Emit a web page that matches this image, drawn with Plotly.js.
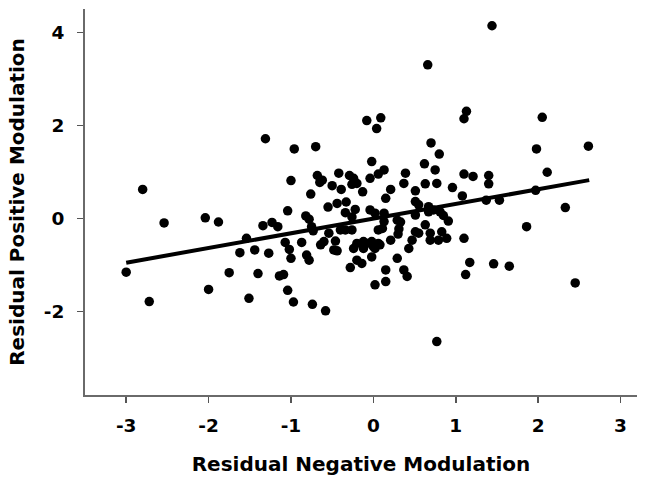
<!DOCTYPE html>
<html>
<head>
<meta charset="utf-8">
<script src="https://cdn.plot.ly/plotly-3.0.1.min.js"></script>
<style>html,body{margin:0;padding:0;background:#fff;}#chart{width:647px;height:486px;}</style>
</head>
<body>
<div id="chart"></div>
<script>
var xVals = [-3.00,-2.80,-2.72,-2.54,-2.04,-1.88,-2.00,-1.75,-1.54,-1.62,
  -1.44,-1.27,-1.34,-1.23,-1.16,-1.40,-1.51,-1.14,-1.09,-1.04,
  -0.97,-0.74,-0.58,-1.31,-0.96,-0.70,-1.00,-1.04,-1.07,-1.02,
  -1.00,-0.87,-0.81,-0.78,-0.82,-0.78,-0.76,-0.73,-0.75,-0.55,
  -0.44,-0.33,-0.68,-0.62,-0.65,-0.50,-0.42,-0.39,-0.29,-0.24,
  -0.26,-0.20,-0.13,-0.04,-0.02,0.13,0.06,0.21,0.15,0.39,
  0.37,-0.34,-0.22,-0.04,0.02,0.13,-0.26,0.13,0.29,-0.54,
  -0.40,-0.34,-0.26,0.06,0.11,0.31,0.33,-0.60,-0.46,-0.48,
  -0.24,-0.20,-0.12,-0.08,-0.02,0.06,0.08,-0.12,0.00,0.02,
  0.21,0.43,-0.02,-0.20,-0.14,-0.28,0.29,0.15,0.37,0.02,
  0.15,-0.44,-0.64,0.51,0.63,0.77,0.75,0.96,1.10,1.08,
  0.51,0.55,0.67,0.67,0.73,0.81,0.85,0.91,0.51,0.63,
  0.51,0.55,0.69,0.69,0.83,0.79,0.89,0.47,0.30,1.10,
  1.17,1.12,1.46,1.65,2.45,2.33,1.86,1.97,1.37,1.53,
  1.40,1.40,1.21,-0.08,0.09,0.04,0.70,0.80,0.62,0.66,
  1.44,1.13,1.10,2.05,1.98,2.61,2.11,0.77,0.41];
var yVals = [-1.16,0.62,-1.79,-0.10,0.01,-0.08,-1.53,-1.17,-0.43,-0.74,
  -0.68,-0.75,-0.16,-0.09,-0.18,-1.19,-1.72,-1.24,-1.21,-1.55,
  -1.80,-1.85,-1.99,1.71,1.49,1.54,0.81,0.16,-0.52,-0.67,
  -0.86,-0.52,-0.79,-0.90,0.05,-0.02,0.52,-0.27,-0.18,0.24,
  0.32,0.35,0.92,0.82,0.77,0.70,0.97,0.62,0.92,0.86,
  0.73,0.75,0.57,0.86,1.22,1.04,0.95,0.62,0.43,0.97,
  0.75,0.12,0.19,0.18,0.11,0.11,0.03,-0.07,-0.04,-0.32,
  -0.25,-0.25,-0.25,-0.25,-0.22,-0.23,-0.08,-0.50,-0.49,-0.68,
  -0.65,-0.54,-0.50,-0.54,-0.50,-0.54,-0.57,-0.65,-0.61,-0.65,
  -0.47,-0.65,-0.83,-0.90,-0.97,-1.06,-0.86,-1.11,-1.11,-1.43,
  -1.36,-0.70,-0.57,0.59,0.74,0.75,1.04,0.66,0.95,0.48,
  0.36,0.29,0.25,0.14,0.18,0.14,0.06,-0.06,0.07,-0.14,
  -0.29,-0.32,-0.32,-0.47,-0.29,-0.47,-0.43,-0.47,-0.34,-0.43,
  -0.95,-1.21,-0.98,-1.03,-1.39,0.23,-0.18,0.60,0.39,0.39,
  0.92,0.74,0.90,2.10,2.16,1.93,1.62,1.38,1.17,3.30,
  4.14,2.30,2.14,2.17,1.49,1.55,0.99,-2.65,-1.25];
var fitX = [-3.00, 2.62];
var fitY = [-0.955, 0.82];
var xTickVals = [-3, -2, -1, 0, 1, 2, 3];
var xTickText = ['-3', '-2', '-1', '0', '1', '2', '3'];
var yTickVals = [-2, 0, 2, 4];
var yTickText = ['-2', '0', '2', '4'];
var xTitle = 'Residual Negative Modulation';
var yTitle = 'Residual Positive Modulation';

var traces = [
  {type: 'scatter', mode: 'markers', x: xVals, y: yVals,
   marker: {color: '#000000', size: 9.5}, hoverinfo: 'none', cliponaxis: false},
  {type: 'scatter', mode: 'lines', x: fitX, y: fitY,
   line: {color: '#000000', width: 4}, hoverinfo: 'none'}
];

var fontFam = 'DejaVu Sans, Liberation Sans, Arial, sans-serif';
var layout = {
  width: 647, height: 486,
  margin: {l: 85, r: 10, t: 9, b: 91, pad: 0},
  paper_bgcolor: '#ffffff', plot_bgcolor: '#ffffff',
  showlegend: false,
  font: {family: fontFam, color: '#000000'},
  xaxis: {
    range: [-3.5, 3.2], tickmode: 'array', tickvals: xTickVals, ticktext: xTickText,
    showline: true, linecolor: '#6a6a6a', linewidth: 2, mirror: false,
    ticks: 'outside', ticklen: 6, tickwidth: 1.5, tickcolor: '#555555',
    showgrid: false, zeroline: false, ticklabelstandoff: 7,
    tickfont: {family: fontFam, size: 18.5, weight: 'bold', color: '#000000'},
    title: {text: xTitle, standoff: 22, font: {family: fontFam, size: 20, weight: 'bold', color: '#000000'}}
  },
  yaxis: {
    range: [-3.8, 4.5], tickmode: 'array', tickvals: yTickVals, ticktext: yTickText,
    showline: true, linecolor: '#6a6a6a', linewidth: 2, mirror: false,
    ticks: 'outside', ticklen: 6, tickwidth: 1.5, tickcolor: '#555555',
    showgrid: false, zeroline: false, ticklabelstandoff: 9,
    tickfont: {family: fontFam, size: 18.5, weight: 'bold', color: '#000000'},
    title: {text: yTitle, standoff: 14, font: {family: fontFam, size: 20, weight: 'bold', color: '#000000'}}
  }
};

Plotly.newPlot('chart', traces, layout, {displayModeBar: false, staticPlot: true});
</script>
</body>
</html>
